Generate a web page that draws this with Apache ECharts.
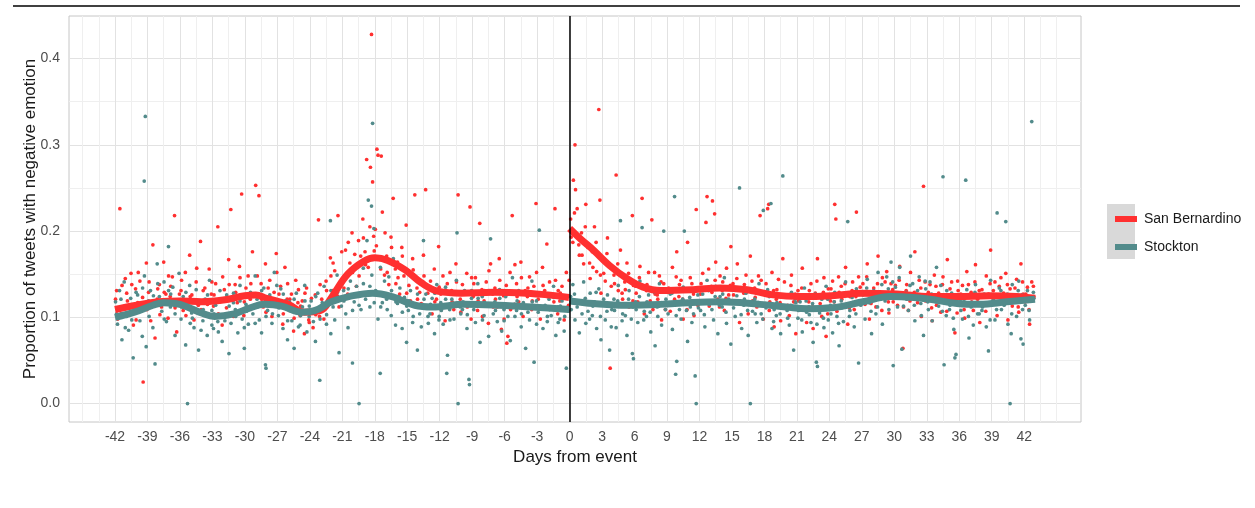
<!DOCTYPE html>
<html>
<head>
<meta charset="utf-8">
<script src="https://cdn.jsdelivr.net/npm/echarts@6/dist/echarts.min.js"></script>
<style>
  html, body { margin: 0; padding: 0; background: #fff; }
  #chart { width: 1255px; height: 508px; }
</style>
</head>
<body>
<div id="chart"></div>
<script>
// tick labels
const xTickDays = [-42,-39,-36,-33,-30,-27,-24,-21,-18,-15,-12,-9,-6,-3,0,3,6,9,12,15,18,21,24,27,30,33,36,39,42];
const yTicks = [0, 0.1, 0.2, 0.3, 0.4];

// smoothed trend, before and after the event
const sbBefore = [[-42,.109],[-40,.114],[-38,.118],[-36,.119],[-34,.118],[-32,.120],[-30,.125],[-29,.126],[-28,.122],[-26,.115],[-24.5,.106],[-23,.108],[-22,.123],[-20.5,.150],[-19,.165],[-18,.169],[-16.8,.166],[-15.2,.155],[-13.7,.140],[-12.1,.130],[-10,.128],[-7,.129],[-4,.128],[-2,.126],[-0.05,.123]];
const sbAfter = [[0,.203],[1,.191],[2.2,.178],[3.7,.160],[5.3,.145],[6.8,.135],[8.4,.131],[11.4,.132],[13.9,.134],[16.4,.132],[18.8,.126],[21.3,.124],[24.2,.125],[27,.128],[30.2,.127],[33.3,.124],[35.8,.124],[38.8,.125],[41.3,.124],[43,.122]];
const stBefore = [[-42,.100],[-40.2,.106],[-38.5,.114],[-37.5,.117],[-36,.115],[-34,.105],[-32.8,.101],[-31,.104],[-29.5,.111],[-28.2,.115],[-26.6,.113],[-24.8,.106],[-23.5,.108],[-22,.118],[-20.4,.124],[-18.2,.128],[-16.4,.124],[-14.3,.114],[-12.7,.112],[-9.7,.115],[-6.6,.114],[-3.5,.112],[-0.05,.109]];
const stAfter = [[0,.119],[2.2,.116],[5.3,.114],[8.4,.115],[11,.117],[13.9,.118],[17.6,.115],[20,.112],[22,.110],[24.2,.111],[27.1,.118],[29.6,.124],[31.8,.123],[33.3,.121],[35.8,.116],[37.9,.115],[40.4,.118],[43,.121]];

// daily points, San Bernardino
const sbPoints = [
[-41.95,.121],[-41.75,.098],[-41.55,.226],[-41.35,.137],[-41.15,.112],
[-40.92,.128],[-40.72,.104],[-40.52,.151],[-40.3,.091],[-40.1,.133],
[-39.9,.117],[-39.7,.142],[-39.5,.108],[-39.4,.025],[-39.1,.163],
[-38.9,.129],[-38.7,.096],[-38.5,.184],[-38.3,.076],[-38.1,.121],
[-37.9,.138],[-37.7,.112],[-37.5,.164],[-37.3,.127],[-37.1,.099],
[-36.9,.124],[-36.7,.147],[-36.5,.218],[-36.3,.083],[-36.1,.116],
[-35.9,.131],[-35.7,.108],[-35.5,.152],[-35.3,.119],[-35.1,.172],
[-34.9,.126],[-34.7,.097],[-34.5,.141],[-34.3,.114],[-34.1,.188],
[-33.9,.119],[-33.7,.134],[-33.5,.102],[-33.3,.156],[-33.1,.127],
[-32.9,.113],[-32.7,.139],[-32.5,.205],[-32.3,.118],[-32.1,.091],
[-31.9,.132],[-31.7,.111],[-31.5,.167],[-31.3,.225],[-31.1,.124],
[-30.9,.138],[-30.7,.117],[-30.5,.159],[-30.3,.243],[-30.1,.102],
[-29.9,.134],[-29.7,.148],[-29.5,.121],[-29.3,.176],[-29.0,.253],
[-28.9,.127],[-28.7,.241],[-28.5,.139],[-28.3,.112],[-28.1,.162],
[-27.9,.119],[-27.7,.143],[-27.5,.101],[-27.3,.129],[-27.1,.174],
[-26.9,.114],[-26.7,.136],[-26.5,.092],[-26.3,.158],[-26.1,.121],
[-25.9,.108],[-25.7,.127],[-25.5,.084],[-25.3,.143],[-25.1,.117],
[-24.9,.102],[-24.7,.119],[-24.5,.081],[-24.3,.134],[-24.1,.097],
[-23.9,.109],[-23.7,.088],[-23.5,.126],[-23.2,.213],[-23.1,.101],
[-22.9,.121],[-22.7,.098],[-22.5,.142],[-22.3,.117],[-22.1,.169],
[-21.9,.131],[-21.7,.154],[-21.4,.218],[-21.3,.112],[-21.1,.139],
[-20.9,.146],[-20.7,.178],[-20.5,.127],[-20.3,.163],[-20.1,.198],
[-19.9,.158],[-19.7,.136],[-19.5,.189],[-19.3,.171],[-19.1,.214],
[-18.9,.176],[-18.75,.283],[-18.6,.158],[-18.4,.274],[-18.3,.428],[-18.2,.257],[-18.1,.194],
[-17.95,.202],[-17.8,.295],[-17.7,.288],[-17.5,.167],[-17.4,.287],[-17.3,.222],[-17.1,.149],
[-16.9,.171],[-16.7,.138],[-16.5,.193],[-16.3,.238],[-16.1,.156],
[-15.9,.164],[-15.7,.127],[-15.5,.181],[-15.3,.148],[-15.1,.207],
[-14.9,.152],[-14.7,.119],[-14.5,.168],[-14.3,.242],[-14.1,.134],
[-13.9,.141],[-13.7,.116],[-13.5,.172],[-13.3,.248],[-13.1,.128],
[-12.9,.133],[-12.7,.104],[-12.5,.156],[-12.3,.121],[-12.1,.182],
[-11.9,.127],[-11.7,.148],[-11.5,.096],[-11.3,.139],[-11.1,.114],
[-10.9,.131],[-10.7,.109],[-10.5,.162],[-10.3,.242],[-10.1,.121],
[-9.9,.138],[-9.7,.117],[-9.5,.151],[-9.2,.228],[-9.1,.098],
[-8.9,.124],[-8.7,.146],[-8.5,.108],[-8.3,.209],[-8.1,.132],
[-7.9,.119],[-7.7,.141],[-7.5,.093],[-7.3,.162],[-7.1,.127],
[-6.9,.134],[-6.7,.112],[-6.5,.168],[-6.3,.086],[-6.1,.125],
[-5.9,.128],[-5.8,.070],[-5.7,.078],[-5.5,.152],[-5.3,.218],[-5.1,.115],
[-4.9,.139],[-4.7,.118],[-4.5,.164],[-4.3,.101],[-4.1,.131],
[-3.9,.124],[-3.7,.147],[-3.5,.109],[-3.3,.136],[-3.1,.232],
[-2.9,.121],[-2.7,.098],[-2.5,.158],[-2.3,.131],[-2.1,.185],
[-1.9,.127],[-1.7,.112],[-1.35,.226],[-1.3,.143],[-1.1,.104],
[-0.9,.119],[-0.7,.136],[-0.5,.097],[-0.3,.152],[-0.1,.114],
[0.1,.214],[0.3,.187],[0.35,.259],[0.5,.300],[0.55,.248],[0.7,.226],[0.9,.172],
[1.1,.198],[1.3,.162],[1.5,.231],[1.7,.181],[1.9,.145],
[2.1,.176],[2.3,.205],[2.5,.153],[2.7,.341],[2.8,.236],[2.9,.128],
[3.1,.167],[3.3,.142],[3.5,.192],[3.75,.041],[3.9,.158],
[4.1,.149],[4.3,.265],[4.5,.131],[4.7,.178],[4.9,.121],
[5.1,.141],[5.3,.163],[5.5,.112],[5.8,.218],[5.9,.137],
[6.1,.136],[6.3,.118],[6.5,.159],[6.7,.238],[6.9,.104],
[7.1,.131],[7.3,.152],[7.6,.213],[7.7,.109],[7.9,.127],
[8.1,.126],[8.3,.148],[8.5,.097],[8.7,.139],[8.9,.116],
[9.1,.129],[9.3,.107],[9.5,.158],[9.7,.121],[9.9,.176],
[10.1,.124],[10.3,.143],[10.5,.098],[10.7,.131],[10.9,.187],
[11.1,.118],[11.3,.139],[11.5,.102],[11.7,.225],[11.9,.132],
[12.1,.127],[12.3,.151],[12.6,.210],[12.7,.240],[12.9,.113],
[13.1,.136],[13.2,.235],[13.4,.220],[13.5,.164],[13.7,.121],[13.9,.148],
[14.1,.131],[14.3,.108],[14.5,.157],[14.7,.126],[14.9,.182],
[15.1,.139],[15.3,.117],[15.5,.162],[15.7,.094],[15.9,.133],
[16.1,.128],[16.3,.149],[16.5,.104],[16.7,.171],[16.9,.119],
[17.1,.134],[17.3,.112],[17.6,.218],[17.7,.143],[17.9,.098],
[18.1,.127],[18.3,.226],[18.4,.231],[18.5,.118],[18.7,.152],[18.9,.089],
[19.1,.121],[19.3,.144],[19.5,.096],[19.7,.168],[19.9,.112],
[20.1,.126],[20.3,.102],[20.5,.149],[20.7,.118],[20.9,.081],
[21.1,.131],[21.3,.109],[21.5,.157],[21.7,.123],[21.9,.094],
[22.1,.118],[22.3,.139],[22.5,.087],[22.7,.128],[22.9,.168],
[23.1,.124],[23.3,.101],[23.5,.146],[23.7,.078],[23.9,.133],
[24.1,.119],[24.3,.142],[24.5,.231],[24.6,.214],[24.7,.107],[24.9,.129],
[25.1,.136],[25.3,.114],[25.5,.158],[25.7,.092],[25.9,.124],
[26.1,.131],[26.3,.109],[26.5,.222],[26.7,.147],[26.9,.118],
[27.1,.139],[27.3,.115],[27.5,.162],[27.7,.098],[27.9,.127],
[28.1,.134],[28.3,.112],[28.5,.171],[28.7,.121],[28.9,.146],
[29.1,.128],[29.3,.153],[29.5,.105],[29.7,.139],[29.9,.118],
[30.1,.137],[30.3,.114],[30.5,.159],[30.8,.064],[30.9,.127],
[31.1,.131],[31.3,.108],[31.5,.152],[31.7,.124],[31.9,.176],
[32.1,.126],[32.3,.143],[32.5,.101],[32.7,.252],[32.9,.119],
[33.1,.122],[33.3,.138],[33.5,.096],[33.7,.149],[33.9,.114],
[34.1,.128],[34.3,.106],[34.5,.147],[34.7,.119],[34.9,.167],
[35.1,.124],[35.3,.141],[35.6,.082],[35.8,.105],[35.9,.131],
[36.1,.118],[36.3,.137],[36.5,.099],[36.7,.153],[36.9,.126],
[37.1,.129],[37.3,.108],[37.5,.161],[37.7,.121],[37.9,.094],
[38.1,.132],[38.3,.114],[38.5,.148],[38.7,.127],[38.9,.178],
[39.1,.124],[39.3,.141],[39.5,.102],[39.7,.136],[39.9,.119],
[40.1,.128],[40.3,.151],[40.5,.097],[40.7,.133],[40.9,.113],
[41.1,.121],[41.3,.144],[41.5,.106],[41.7,.162],[41.9,.127],
[42.1,.118],[42.3,.135],[42.5,.092],[42.7,.141],[42.9,.124]
];

// more San Bernardino points in the dense band
const sbPointsDense = [
[-41.85,.131],[-41.45,.104],[-41.05,.145],[-40.85,.119],[-40.45,.138],[-40.05,.097],
[-39.85,.152],[-39.45,.123],[-39.05,.109],[-38.85,.141],[-38.45,.117],[-38.05,.133],
[-37.85,.103],[-37.45,.129],[-37.05,.148],[-36.85,.136],[-36.45,.111],[-36.05,.127],
[-35.85,.143],[-35.45,.102],[-35.05,.124],[-34.85,.118],[-34.45,.157],[-34.05,.109],
[-33.85,.131],[-33.45,.115],[-33.05,.141],[-32.85,.126],[-32.45,.104],[-32.05,.147],
[-31.85,.119],[-31.45,.138],[-31.05,.101],[-30.85,.129],[-30.45,.146],[-30.05,.118],
[-29.85,.112],[-29.45,.139],[-29.05,.127],[-28.85,.148],[-28.45,.121],[-28.05,.106],
[-27.85,.134],[-27.45,.117],[-27.05,.152],[-26.85,.127],[-26.45,.104],[-26.05,.139],
[-25.85,.121],[-25.45,.099],[-25.05,.132],[-24.85,.113],[-24.45,.128],[-24.05,.094],
[-23.85,.122],[-23.45,.103],[-23.05,.138],[-22.85,.109],[-22.45,.131],[-22.05,.148],
[-21.85,.163],[-21.45,.125],[-21.05,.176],[-20.85,.134],[-20.45,.187],[-20.05,.152],
[-19.85,.173],[-19.45,.148],[-19.05,.192],[-18.85,.161],[-18.45,.205],[-18.05,.177],
[-17.85,.183],[-17.45,.156],[-17.05,.198],[-16.85,.152],[-16.45,.181],[-16.05,.139],
[-15.85,.146],[-15.45,.171],[-15.05,.128],[-14.85,.137],[-14.45,.155],[-14.05,.121],
[-13.85,.129],[-13.45,.148],[-13.05,.111],[-12.85,.142],[-12.45,.118],[-12.05,.135],
[-11.85,.109],[-11.45,.131],[-11.05,.152],[-10.85,.118],[-10.45,.141],[-10.05,.106],
[-9.85,.127],[-9.45,.112],[-9.05,.146],[-8.85,.139],[-8.45,.119],[-8.05,.101],
[-7.85,.131],[-7.45,.154],[-7.05,.112],[-6.85,.121],[-6.45,.143],[-6.05,.098],
[-5.85,.137],[-5.45,.109],[-5.05,.161],[-4.85,.124],[-4.45,.146],[-4.05,.113],
[-3.85,.134],[-3.45,.119],[-3.05,.152],[-2.85,.113],[-2.45,.137],[-2.05,.124],
[-1.85,.141],[-1.45,.118],[-1.05,.131],[-0.85,.128],[-0.45,.109],[-0.05,.143],
[0.15,.193],[0.45,.221],[0.85,.184],[1.15,.172],[1.45,.205],[1.85,.163],
[2.15,.158],[2.45,.187],[2.85,.149],[3.15,.151],[3.45,.174],[3.85,.136],
[4.15,.139],[4.45,.162],[4.85,.128],[5.15,.132],[5.45,.151],[5.85,.119],
[6.15,.128],[6.45,.146],[6.85,.113],[7.15,.138],[7.45,.119],[7.85,.152],
[8.15,.121],[8.45,.141],[8.85,.109],[9.15,.134],[9.45,.116],[9.85,.147],
[10.15,.138],[10.45,.121],[10.85,.109],[11.15,.146],[11.45,.127],[11.85,.114],
[12.15,.139],[12.45,.118],[12.85,.156],[13.15,.129],[13.45,.143],[13.85,.112],
[14.15,.141],[14.45,.122],[14.85,.137],[15.15,.126],[15.45,.145],[15.85,.118],
[16.15,.138],[16.45,.117],[16.85,.142],[17.15,.123],[17.45,.148],[17.85,.116],
[18.15,.139],[18.45,.108],[18.85,.131],[19.15,.132],[19.45,.117],[19.85,.141],
[20.15,.114],[20.45,.137],[20.85,.127],[21.15,.119],[21.45,.134],[21.85,.108],
[22.15,.131],[22.45,.112],[22.85,.142],[23.15,.116],[23.45,.129],[23.85,.104],
[24.15,.133],[24.45,.118],[24.85,.147],[25.15,.121],[25.45,.139],[25.85,.111],
[26.15,.141],[26.45,.124],[26.85,.135],[27.15,.128],[27.45,.147],[27.85,.116],
[28.15,.123],[28.45,.139],[28.85,.108],[29.15,.141],[29.45,.118],[29.85,.132],
[30.15,.124],[30.45,.143],[30.85,.112],[31.15,.138],[31.45,.119],[31.85,.129],
[32.15,.117],[32.45,.134],[32.85,.141],[33.15,.129],[33.45,.111],[33.85,.136],
[34.15,.119],[34.45,.138],[34.85,.107],[35.15,.133],[35.45,.116],[35.85,.142],
[36.15,.127],[36.45,.109],[36.85,.138],[37.15,.118],[37.45,.141],[37.85,.131],
[38.15,.124],[38.45,.107],[38.85,.139],[39.15,.131],[39.45,.117],[39.85,.146],
[40.15,.119],[40.45,.138],[40.85,.124],[41.15,.134],[41.45,.112],[41.85,.141],
[42.15,.127],[42.45,.109],[42.85,.136]
];

// daily points, Stockton
const stPoints = [
[-41.95,.118],[-41.77,.092],[-41.58,.131],[-41.36,.074],[-41.15,.141],
[-40.93,.101],[-40.74,.085],[-40.55,.122],[-40.32,.053],[-40.12,.110],
[-39.91,.126],[-39.7,.096],[-39.48,.078],[-39.3,.258],[-39.2,.333],[-39.28,.148],[-39.12,.066],
[-38.9,.119],[-38.72,.131],[-38.5,.088],[-38.3,.046],[-38.1,.162],
[-37.9,.124],[-37.68,.107],[-37.47,.141],[-37.25,.095],[-37.06,.182],
[-36.88,.112],[-36.66,.135],[-36.45,.079],[-36.27,.118],[-36.08,.151],
[-35.9,.098],[-35.7,.124],[-35.47,.068],[-35.3,.000],[-35.1,.137],
[-34.92,.105],[-34.7,.088],[-34.5,.132],[-34.28,.062],[-34.08,.117],
[-33.88,.096],[-33.67,.121],[-33.48,.079],[-33.27,.143],[-33.05,.108],
[-32.9,.087],[-32.7,.114],[-32.5,.095],[-32.3,.131],[-32.1,.072],
[-31.9,.101],[-31.68,.126],[-31.47,.058],[-31.28,.093],[-31.06,.117],
[-30.88,.109],[-30.65,.082],[-30.45,.137],[-30.25,.098],[-30.05,.064],
[-29.9,.115],[-29.68,.092],[-29.48,.129],[-29.26,.104],[-29.05,.148],
[-28.88,.121],[-28.67,.097],[-28.46,.082],[-28.25,.134],[-28.1,.045],[-28.05,.041],
[-27.9,.108],[-27.7,.126],[-27.5,.093],[-27.28,.152],[-27.07,.115],
[-26.9,.102],[-26.68,.133],[-26.48,.087],[-26.27,.119],[-26.06,.074],
[-25.88,.118],[-25.66,.096],[-25.45,.064],[-25.25,.128],[-25.05,.105],
[-24.9,.091],[-24.68,.112],[-24.47,.137],[-24.27,.083],[-24.06,.101],
[-23.88,.119],[-23.67,.095],[-23.48,.072],[-23.27,.128],[-23.08,.027],
[-22.9,.108],[-22.68,.136],[-22.46,.092],[-22.26,.118],[-22.1,.212],[-22.06,.081],
[-21.9,.124],[-21.7,.097],[-21.48,.149],[-21.3,.059],[-21.08,.113],
[-20.88,.131],[-20.68,.104],[-20.47,.088],[-20.25,.142],[-20.06,.047],
[-19.9,.118],[-19.68,.136],[-19.45,.000],[-19.27,.109],[-19.06,.157],
[-18.9,.127],[-18.72,.189],[-18.6,.236],[-18.45,.112],[-18.3,.229],[-18.27,.149],[-18.2,.325],[-18.08,.203],
[-17.92,.131],[-17.7,.098],[-17.5,.035],[-17.48,.158],[-17.3,.117],[-17.1,.142],
[-16.9,.121],[-16.7,.147],[-16.48,.102],[-16.28,.168],[-16.08,.091],
[-15.9,.116],[-15.68,.134],[-15.47,.087],[-15.26,.123],[-15.06,.071],
[-14.9,.108],[-14.7,.131],[-14.5,.094],[-14.28,.116],[-14.06,.062],
[-13.9,.113],[-13.7,.089],[-13.5,.189],[-13.28,.127],[-13.08,.101],
[-12.9,.104],[-12.7,.122],[-12.48,.081],[-12.27,.138],[-12.07,.097],
[-11.9,.117],[-11.68,.092],[-11.46,.135],[-11.35,.035],[-11.28,.056],[-11.08,.109],
[-10.88,.121],[-10.68,.098],[-10.46,.143],[-10.4,.198],[-10.3,.000],[-10.1,.112],
[-9.9,.109],[-9.7,.131],[-9.48,.087],[-9.3,.028],[-9.25,.022],[-9.06,.122],
[-8.9,.116],[-8.7,.094],[-8.48,.139],[-8.27,.071],[-8.07,.124],
[-7.9,.102],[-7.7,.127],[-7.48,.078],[-7.3,.191],[-7.08,.113],
[-6.9,.118],[-6.68,.095],[-6.47,.132],[-6.27,.084],[-6.06,.109],
[-5.9,.124],[-5.7,.101],[-5.48,.073],[-5.28,.146],[-5.08,.115],
[-4.9,.108],[-4.7,.131],[-4.47,.089],[-4.27,.117],[-4.06,.064],
[-3.9,.113],[-3.7,.097],[-3.48,.142],[-3.28,.048],[-3.06,.119],
[-2.9,.106],[-2.8,.201],[-2.68,.128],[-2.46,.087],[-2.26,.114],[-2.06,.095],
[-1.9,.121],[-1.7,.102],[-1.48,.136],[-1.27,.079],[-1.07,.112],
[-0.9,.098],[-0.7,.119],[-0.5,.084],[-0.3,.041],[-0.1,.107],
[0.1,.124],[0.3,.138],[0.5,.097],[0.7,.112],[0.9,.082],
[1.1,.119],[1.3,.141],[1.5,.093],[1.7,.107],[1.9,.128],
[2.1,.102],[2.3,.118],[2.5,.087],[2.7,.133],[2.9,.074],
[3.1,.115],[3.3,.097],[3.5,.126],[3.7,.062],[3.9,.109],
[4.1,.121],[4.3,.088],[4.5,.137],[4.7,.212],[4.9,.104],
[5.1,.113],[5.3,.079],[5.5,.131],[5.7,.098],[5.8,.058],[5.9,.052],
[6.1,.118],[6.3,.094],[6.5,.142],[6.7,.204],[6.9,.107],
[7.1,.101],[7.3,.126],[7.5,.083],[7.7,.116],[7.9,.067],
[8.1,.112],[8.3,.139],[8.5,.091],[8.7,.200],[8.9,.121],
[9.1,.104],[9.3,.127],[9.5,.086],[9.7,.240],[9.8,.034],[9.9,.049],
[10.1,.117],[10.3,.098],[10.5,.135],[10.6,.200],[10.8,.108],[10.9,.072],
[11.1,.123],[11.3,.094],[11.5,.131],[11.6,.032],[11.7,.000],[11.9,.111],
[12.1,.108],[12.3,.127],[12.5,.089],[12.7,.143],[12.9,.115],
[13.1,.119],[13.3,.097],[13.5,.136],[13.7,.081],[13.9,.124],
[14.1,.112],[14.3,.146],[14.5,.093],[14.7,.121],[14.9,.069],
[15.1,.118],[15.3,.101],[15.5,.134],[15.7,.250],[15.9,.087],
[16.1,.114],[16.3,.128],[16.5,.079],[16.7,.000],[16.9,.107],
[17.1,.121],[17.3,.094],[17.5,.139],[17.7,.104],[17.9,.224],
[18.1,.116],[18.3,.132],[18.6,.232],[18.7,.087],[18.9,.109],
[19.1,.102],[19.3,.124],[19.5,.081],[19.7,.264],[19.9,.113],
[20.1,.108],[20.3,.091],[20.5,.129],[20.7,.062],[20.9,.117],
[21.1,.099],[21.3,.118],[21.5,.083],[21.7,.134],[21.9,.106],
[22.1,.112],[22.3,.094],[22.5,.071],[22.7,.127],[22.8,.048],[22.9,.043],
[23.1,.105],[23.3,.121],[23.5,.088],[23.7,.136],[23.9,.097],
[24.1,.114],[24.3,.082],[24.5,.129],[24.7,.101],[24.9,.067],
[25.1,.119],[25.3,.095],[25.5,.141],[25.7,.211],[25.9,.108],
[26.1,.123],[26.3,.089],[26.5,.133],[26.7,.047],[26.9,.114],
[27.1,.126],[27.3,.098],[27.5,.144],[27.7,.117],[27.9,.081],
[28.1,.131],[28.3,.104],[28.5,.152],[28.7,.121],[28.9,.092],
[29.1,.128],[29.3,.147],[29.5,.109],[29.7,.164],[29.9,.044],
[30.1,.135],[30.3,.112],[30.5,.158],[30.7,.063],[30.9,.124],
[31.1,.129],[31.3,.108],[31.5,.171],[31.7,.139],[31.9,.096],
[32.1,.124],[32.3,.147],[32.5,.102],[32.7,.079],[32.9,.133],
[33.1,.118],[33.3,.141],[33.5,.096],[33.7,.126],[33.9,.158],
[34.1,.113],[34.3,.137],[34.5,.263],[34.6,.045],[34.8,.102],[34.9,.121],
[35.1,.109],[35.3,.128],[35.5,.086],[35.6,.053],[35.7,.057],[35.9,.117],
[36.1,.121],[36.3,.098],[36.6,.259],[36.7,.132],[36.9,.076],
[37.1,.112],[37.3,.091],[37.5,.138],[37.7,.104],[37.9,.125],
[38.1,.108],[38.3,.127],[38.5,.089],[38.7,.061],[38.9,.143],
[39.1,.118],[39.3,.097],[39.5,.221],[39.7,.134],[39.9,.109],
[40.1,.123],[40.3,.211],[40.5,.092],[40.7,.000],[40.8,.081],[40.9,.138],
[41.1,.119],[41.3,.101],[41.5,.142],[41.7,.075],[41.8,.126],[41.9,.069],
[42.1,.114],[42.3,.131],[42.5,.097],[42.7,.327],[42.9,.122]
];

// more Stockton points in the dense band
const stPointsDense = [
[-41.85,.104],[-41.45,.121],[-41.05,.088],[-40.85,.113],[-40.45,.097],[-40.05,.129],
[-39.85,.109],[-39.45,.134],[-39.05,.117],[-38.85,.101],[-38.45,.125],[-38.05,.139],
[-37.85,.116],[-37.45,.098],[-37.05,.131],[-36.85,.127],[-36.45,.104],[-36.05,.119],
[-35.85,.112],[-35.45,.129],[-35.05,.093],[-34.85,.099],[-34.45,.118],[-34.05,.085],
[-33.85,.109],[-33.45,.126],[-33.05,.091],[-32.85,.104],[-32.45,.083],[-32.05,.119],
[-31.85,.096],[-31.45,.113],[-31.05,.128],[-30.85,.101],[-30.45,.119],[-30.05,.088],
[-29.85,.107],[-29.45,.124],[-29.05,.093],[-28.85,.112],[-28.45,.131],[-28.05,.101],
[-27.85,.119],[-27.45,.104],[-27.05,.137],[-26.85,.111],[-26.45,.127],[-26.05,.096],
[-25.85,.108],[-25.45,.121],[-25.05,.089],[-24.85,.102],[-24.45,.119],[-24.05,.113],
[-23.85,.106],[-23.45,.124],[-23.05,.098],[-22.85,.117],[-22.45,.103],[-22.05,.131],
[-21.85,.112],[-21.45,.129],[-21.05,.138],[-20.85,.119],[-20.45,.133],[-20.05,.108],
[-19.85,.127],[-19.45,.114],[-19.05,.139],[-18.85,.121],[-18.45,.136],[-18.05,.117],
[-17.85,.129],[-17.45,.112],[-17.05,.124],[-16.85,.109],[-16.45,.131],[-16.05,.118],
[-15.85,.124],[-15.45,.106],[-15.05,.113],[-14.85,.119],[-14.45,.101],[-14.05,.127],
[-13.85,.104],[-13.45,.121],[-13.05,.093],[-12.85,.115],[-12.45,.128],[-12.05,.101],
[-11.85,.108],[-11.45,.121],[-11.05,.097],[-10.85,.113],[-10.45,.129],[-10.05,.104],
[-9.85,.118],[-9.45,.103],[-9.05,.131],[-8.85,.109],[-8.45,.122],[-8.05,.097],
[-7.85,.117],[-7.45,.131],[-7.05,.104],[-6.85,.108],[-6.45,.122],[-6.05,.096],
[-5.85,.113],[-5.45,.129],[-5.05,.101],[-4.85,.119],[-4.45,.104],[-4.05,.127],
[-3.85,.106],[-3.45,.118],[-3.05,.092],[-2.85,.112],[-2.45,.127],[-2.05,.101],
[-1.85,.109],[-1.45,.123],[-1.05,.094],[-0.85,.113],[-0.45,.101],[-0.05,.125],
[0.15,.109],[0.45,.127],[0.85,.118],[1.15,.104],[1.45,.122],[1.85,.098],
[2.15,.113],[2.45,.129],[2.85,.101],[3.15,.121],[3.45,.107],[3.85,.089],
[4.15,.108],[4.45,.119],[4.85,.096],[5.15,.102],[5.45,.121],[5.85,.112],
[6.15,.109],[6.45,.124],[6.85,.097],[7.15,.118],[7.45,.106],[7.85,.129],
[8.15,.101],[8.45,.117],[8.85,.109],[9.15,.114],[9.45,.128],[9.85,.102],
[10.15,.109],[10.45,.121],[10.85,.131],[11.15,.112],[11.45,.104],[11.85,.126],
[12.15,.118],[12.45,.103],[12.85,.131],[13.15,.109],[13.45,.124],[13.85,.114],
[14.15,.127],[14.45,.106],[14.85,.119],[15.15,.111],[15.45,.125],[15.85,.103],
[16.15,.121],[16.45,.108],[16.85,.129],[17.15,.104],[17.45,.117],[17.85,.098],
[18.15,.111],[18.45,.124],[18.85,.095],[19.15,.117],[19.45,.104],[19.85,.126],
[20.15,.099],[20.45,.114],[20.85,.121],[21.15,.108],[21.45,.097],[21.85,.119],
[22.15,.103],[22.45,.116],[22.85,.092],[23.15,.112],[23.45,.099],[23.85,.121],
[24.15,.104],[24.45,.118],[24.85,.093],[25.15,.111],[25.45,.127],[25.85,.101],
[26.15,.117],[26.45,.104],[26.85,.129],[27.15,.119],[27.45,.134],[27.85,.107],
[28.15,.126],[28.45,.112],[28.85,.138],[29.15,.119],[29.45,.133],[29.85,.141],
[30.15,.127],[30.45,.146],[30.85,.113],[31.15,.121],[31.45,.137],[31.85,.114],
[32.15,.131],[32.45,.116],[32.85,.142],[33.15,.109],[33.45,.127],[33.85,.118],
[34.15,.124],[34.45,.107],[34.85,.131],[35.15,.114],[35.45,.099],[35.85,.123],
[36.15,.108],[36.45,.121],[36.85,.101],[37.15,.117],[37.45,.129],[37.85,.104],
[38.15,.112],[38.45,.124],[38.85,.097],[39.15,.121],[39.45,.109],[39.85,.131],
[40.15,.114],[40.45,.127],[40.85,.104],[41.15,.118],[41.45,.131],[41.85,.109],
[42.15,.123],[42.45,.108],[42.85,.129]
];

const RED = '#FF3030';
const TEAL = '#528B8B';
const FONT = 'Liberation Sans, Arial, sans-serif';

// minor grid positions: halfway between labelled days, plus the outer ones
const xMinor = [-45, 45];
for (let d = -43.5; d <= 43.5; d += 3) xMinor.push(d);
const yMinor = [0.05, 0.15, 0.25, 0.35];

const X_MIN = -46.25, X_MAX = 47.25, Y_MIN = -0.0214, Y_MAX = 0.4494;

const chart = echarts.init(document.getElementById('chart'), null, { renderer: 'canvas' });

const minorX = {
  type: 'value', gridIndex: 0, min: X_MIN, max: X_MAX, position: 'top',
  axisLine: { show: false },
  axisTick: { show: false, customValues: xMinor },
  axisLabel: { show: false, customValues: xMinor },
  splitLine: { show: true, lineStyle: { color: '#efefef', width: 1 } }
};
const minorY = {
  type: 'value', gridIndex: 0, min: Y_MIN, max: Y_MAX, position: 'right',
  axisLine: { show: false },
  axisTick: { show: false, customValues: yMinor },
  axisLabel: { show: false, customValues: yMinor },
  splitLine: { show: true, lineStyle: { color: '#efefef', width: 1 } }
};

const dot = color => ({ color: color, opacity: 1 });

chart.setOption({
  animation: false,
  backgroundColor: '#fff',
  grid: {
    left: 69, top: 16, width: 1012, height: 406,
    show: true, borderColor: '#c6c6c6', borderWidth: 1, backgroundColor: 'transparent'
  },
  xAxis: [{
    type: 'value', min: X_MIN, max: X_MAX,
    name: 'Days from event', nameLocation: 'middle', nameGap: 27,
    nameTextStyle: { fontFamily: FONT, fontSize: 17, color: '#1a1a1a' },
    axisLine: { show: false },
    axisTick: { show: false, customValues: xTickDays },
    axisLabel: { customValues: xTickDays, margin: 8, fontFamily: FONT, fontSize: 14, color: '#4d4d4d' },
    splitLine: { show: true, lineStyle: { color: '#e2e2e2', width: 1 } }
  }, minorX],
  yAxis: [{
    type: 'value', min: Y_MIN, max: Y_MAX,
    name: 'Proportion of tweets with negative emotion', nameLocation: 'middle', nameGap: 30,
    nameMoveOverlap: false,
    nameTextStyle: { fontFamily: FONT, fontSize: 17, color: '#1a1a1a' },
    axisLine: { show: false },
    axisTick: { show: false, customValues: yTicks },
    axisLabel: { customValues: yTicks, margin: 9, fontFamily: FONT, fontSize: 14, color: '#4d4d4d',
      formatter: v => v.toFixed(1) },
    splitLine: { show: true, lineStyle: { color: '#e2e2e2', width: 1 } }
  }, minorY],
  legend: {
    left: 1110, top: 206, orient: 'vertical', itemGap: 12,
    icon: 'rect', itemWidth: 22, itemHeight: 6,
    data: ['San Bernardino', 'Stockton'],
    textStyle: { fontFamily: FONT, fontSize: 14, color: '#1a1a1a', lineHeight: 16, padding: [0, 0, 0, 2] },
    selectedMode: false
  },
  graphic: [
    { type: 'line', shape: { x1: 13, y1: 6, x2: 1240, y2: 6 }, style: { stroke: '#000', lineWidth: 1.5 }, z: -1 },
    { type: 'rect', shape: { x: 1107, y: 204, width: 28, height: 55 }, style: { fill: '#d9d9d9' }, z: -1 }
  ],
  series: [
    { name: 'San Bernardino', type: 'scatter', data: sbPoints.concat(sbPointsDense), symbolSize: 3.7,
      itemStyle: dot(RED), z: 2, silent: true },
    { name: 'Stockton', type: 'scatter', data: stPoints.concat(stPointsDense), symbolSize: 3.7,
      itemStyle: dot(TEAL), z: 2, silent: true },
    { name: 'San Bernardino', type: 'line', data: sbBefore, smooth: 0.4, showSymbol: false,
      lineStyle: { color: RED, width: 7 }, itemStyle: { color: RED }, z: 3, silent: true },
    { name: 'San Bernardino', type: 'line', data: sbAfter, smooth: 0.4, showSymbol: false,
      lineStyle: { color: RED, width: 7 }, itemStyle: { color: RED }, z: 3, silent: true },
    { name: 'Stockton', type: 'line', data: stBefore, smooth: 0.4, showSymbol: false,
      lineStyle: { color: TEAL, width: 7 }, itemStyle: { color: TEAL }, z: 4, silent: true },
    { name: 'Stockton', type: 'line', data: stAfter, smooth: 0.4, showSymbol: false,
      lineStyle: { color: TEAL, width: 7 }, itemStyle: { color: TEAL }, z: 4, silent: true,
      markLine: {
        silent: true, symbol: 'none', label: { show: false },
        lineStyle: { color: '#000', width: 1.5, type: 'solid' },
        data: [{ xAxis: 0 }]
      } }
  ]
});
</script>
</body>
</html>
